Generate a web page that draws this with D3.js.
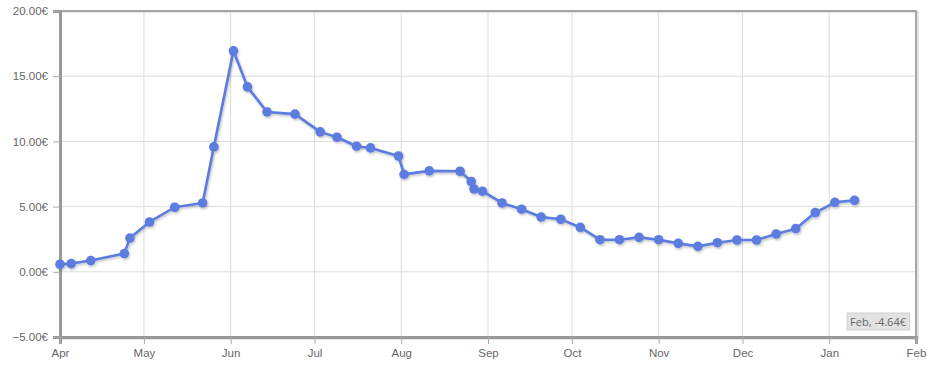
<!DOCTYPE html>
<html>
<head>
<meta charset="utf-8">
<script src="https://cdn.jsdelivr.net/npm/d3@7"></script>
<style>
  body { margin: 0; background: #fff; }
  svg { font-family: "Open Sans", "Liberation Sans", sans-serif; }
</style>
</head>
<body>
<div id="chart"></div>
<script>
// data
const dates = ["2013-04-01","2013-04-05","2013-04-12","2013-04-24","2013-04-26","2013-05-03","2013-05-12","2013-05-22","2013-05-26","2013-06-02","2013-06-07","2013-06-14","2013-06-24","2013-07-03","2013-07-09","2013-07-16","2013-07-21","2013-07-31","2013-08-02","2013-08-11","2013-08-22","2013-08-26","2013-08-27","2013-08-30","2013-09-06","2013-09-13","2013-09-20","2013-09-27","2013-10-04","2013-10-11","2013-10-18","2013-10-25","2013-11-01","2013-11-08","2013-11-15","2013-11-22","2013-11-29","2013-12-06","2013-12-13","2013-12-20","2013-12-27","2014-01-03","2014-01-10"];
const values = [0.58,0.63,0.86,1.40,2.59,3.82,4.95,5.28,9.58,16.95,14.18,12.26,12.09,10.73,10.32,9.63,9.50,8.88,7.47,7.74,7.71,6.92,6.35,6.18,5.28,4.80,4.20,4.03,3.41,2.46,2.46,2.64,2.46,2.18,1.95,2.23,2.44,2.44,2.90,3.31,4.54,5.33,5.48];
const yTicks = [-5, 0, 5, 10, 15, 20];
const xStart = "2013-04-01", xEnd = "2014-02-01";
const hoverLabel = "Feb, -4.64€";

let w = 930, h = 378;
const margin = {top: 11, right: 14, bottom: 41, left: 60};
const iw = w - margin.left - margin.right;
const ih = h - margin.top - margin.bottom;

const parse = d3.timeParse("%Y-%m-%d");
const data = dates.map((d, i) => ({date: parse(d), value: values[i]}));

let svg = d3.select("#chart").append("svg")
    .attr("width", w)
    .attr("height", h);

const defs = svg.append("defs");
const f = defs.append("filter").attr("id", "shadow")
    .attr("x", "-5%").attr("y", "-5%").attr("width", "110%").attr("height", "120%");
f.append("feDropShadow").attr("dx", 1).attr("dy", 1.5)
    .attr("stdDeviation", 1.2).attr("flood-color", "#000").attr("flood-opacity", 0.25);

const x = d3.scaleTime()
    .domain([parse(xStart), parse(xEnd)])
    .range([0, iw]);
const y = d3.scaleLinear()
    .domain([-5, 20])
    .range([ih, 0]);

const g = svg.append("g").attr("transform", `translate(${margin.left},${margin.top})`);

// outer shadow of the frame
g.append("rect")
    .attr("x", 1).attr("y", 1).attr("width", iw + 1).attr("height", ih + 1)
    .attr("fill", "none").attr("stroke", "#e4e4e4").attr("stroke-width", 2);

// grid
g.append("g")
    .selectAll("line")
    .data(yTicks)
    .join("line")
    .attr("x1", 0).attr("x2", iw)
    .attr("y1", d => y(d)).attr("y2", d => y(d))
    .attr("stroke", "#dcdcdc").attr("stroke-width", 1);

const months = x.ticks(d3.timeMonth.every(1));
g.append("g")
    .selectAll("line")
    .data(months)
    .join("line")
    .attr("x1", d => x(d)).attr("x2", d => x(d))
    .attr("y1", 0).attr("y2", ih)
    .attr("stroke", "#dcdcdc").attr("stroke-width", 1);

// frame
g.append("rect")
    .attr("width", iw).attr("height", ih)
    .attr("fill", "none").attr("stroke", "#a6a6a6").attr("stroke-width", 2);

// axes
const yAxis = g.append("g")
    .call(d3.axisLeft(y).tickValues(yTicks).tickSize(7).tickPadding(5)
        .tickFormat(d => d3.format(".2f")(d) + "€"));
const xAxis = g.append("g")
    .attr("transform", `translate(0,${ih})`)
    .call(d3.axisBottom(x).ticks(d3.timeMonth.every(1)).tickSize(7).tickPadding(5)
        .tickFormat(d3.timeFormat("%b")));

[yAxis, xAxis].forEach(a => {
    a.select(".domain").attr("stroke", "#999").attr("stroke-width", 3);
    a.selectAll(".tick line").attr("stroke", "#aaa");
    a.selectAll(".tick text").attr("fill", "#666").style("font-size", "11.5px");
});

// line
const line = d3.line()
    .x(d => x(d.date))
    .y(d => y(d.value));

const series = g.append("g").attr("filter", "url(#shadow)");
series.append("path")
    .datum(data)
    .attr("fill", "none")
    .attr("stroke", "#5b7ce0")
    .attr("stroke-width", 2.6)
    .attr("stroke-linejoin", "round")
    .attr("d", line);

series.selectAll("circle")
    .data(data)
    .join("circle")
    .attr("cx", d => x(d.date))
    .attr("cy", d => y(d.value))
    .attr("r", 4.8)
    .attr("fill", "#5b7ce0");

// hover label in the corner
const tip = g.append("g");
const tipText = tip.append("text")
    .attr("x", iw - 10).attr("y", ih - 11)
    .attr("text-anchor", "end")
    .attr("fill", "#666")
    .style("font-size", "11px")
    .text(hoverLabel);
const bb = tipText.node().getBBox();
tip.insert("rect", "text")
    .attr("x", bb.x - 3).attr("y", bb.y - 1)
    .attr("width", bb.width + 6).attr("height", bb.height + 2)
    .attr("fill", "#e2e2e2").attr("stroke", "#d0d0d0");
</script>
</body>
</html>
